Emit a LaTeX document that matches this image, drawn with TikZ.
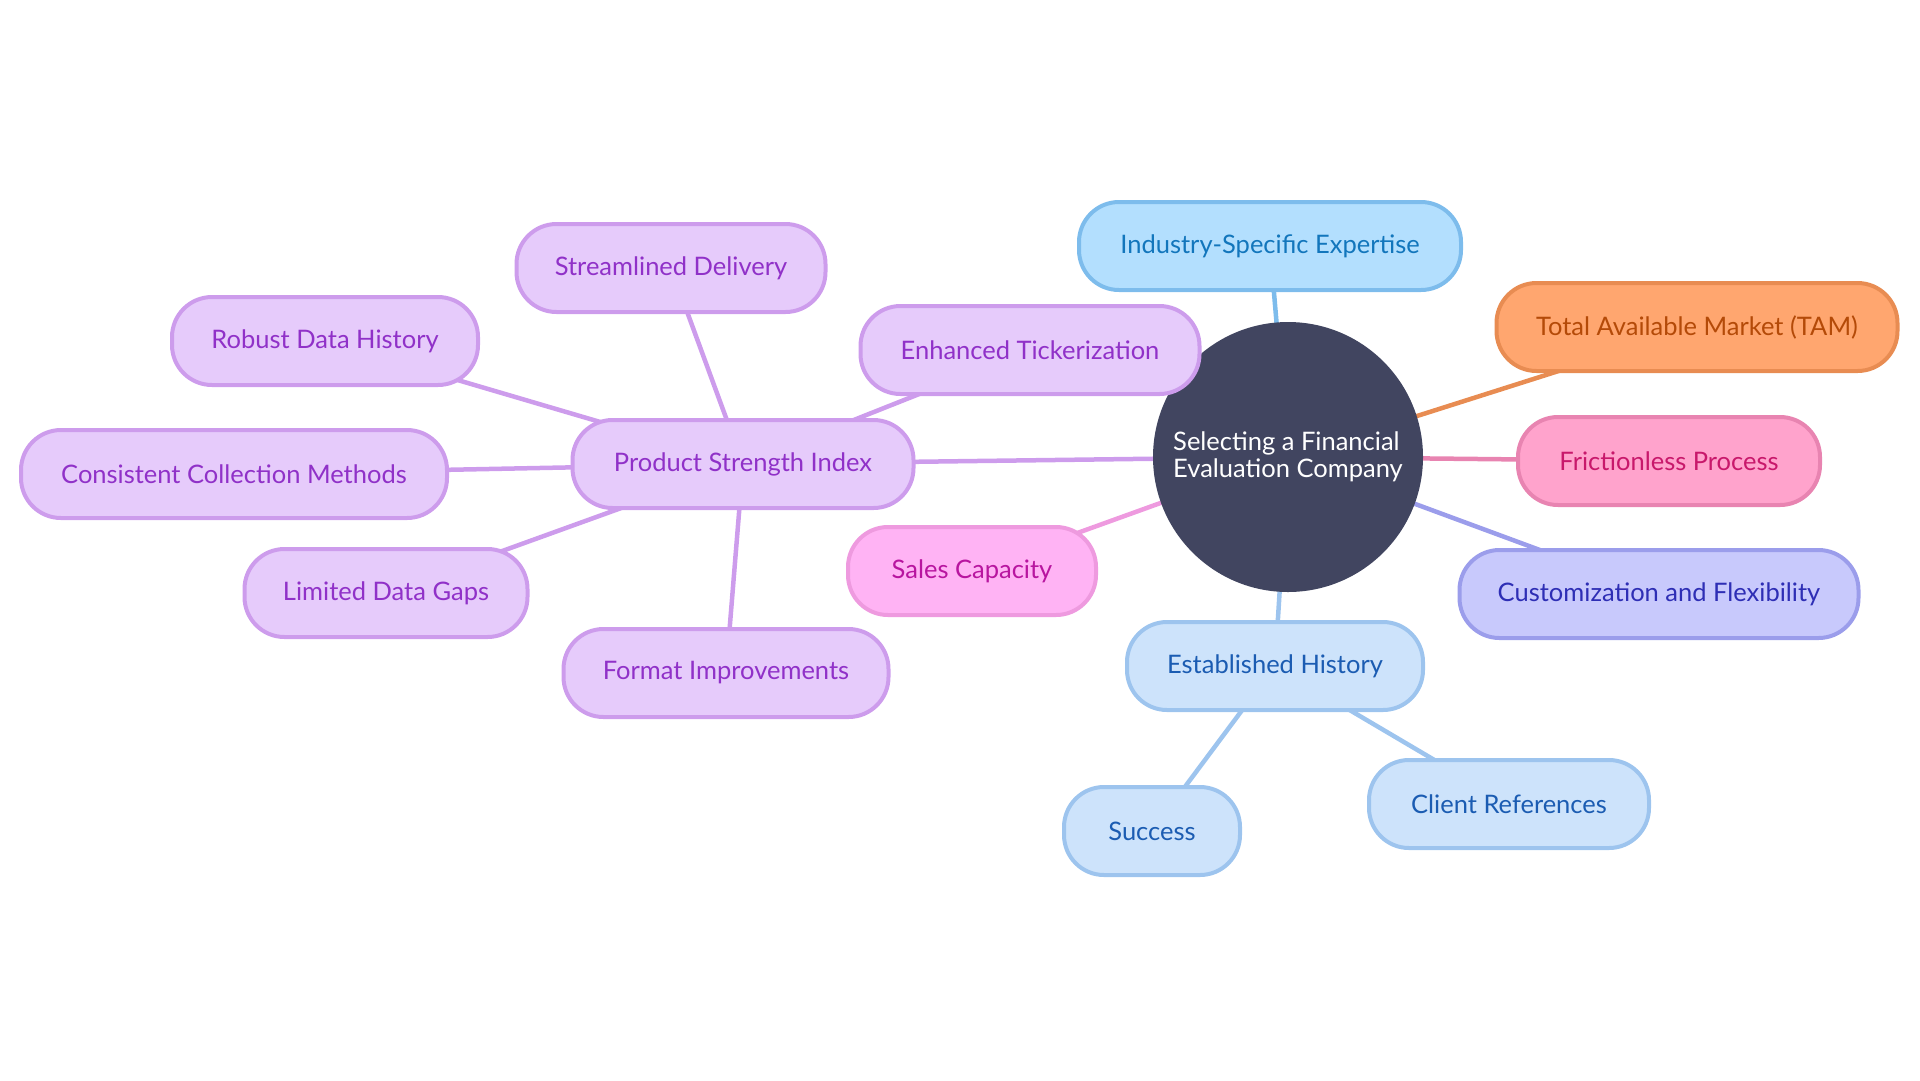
\documentclass[tikz,border=0pt]{standalone}
\usepackage{fontspec}
\setmainfont{Lato}
\usetikzlibrary{backgrounds}
\definecolor{rootc}{HTML}{414560}
\definecolor{pfill}{HTML}{E6CBFB}
\definecolor{pline}{HTML}{CD9CEC}
\definecolor{ptext}{HTML}{9031C8}
\definecolor{bfill}{HTML}{B3DFFE}
\definecolor{bline}{HTML}{7DBCEC}
\definecolor{btext}{HTML}{1276BC}
\definecolor{ofill}{HTML}{FFA66F}
\definecolor{oline}{HTML}{E88C52}
\definecolor{otext}{HTML}{B44A08}
\definecolor{kfill}{HTML}{FFA3CC}
\definecolor{kline}{HTML}{E884B1}
\definecolor{ktext}{HTML}{C8186B}
\definecolor{ifill}{HTML}{C8C9FC}
\definecolor{iline}{HTML}{9B9DEB}
\definecolor{itext}{HTML}{2E2EB5}
\definecolor{lfill}{HTML}{CDE3FB}
\definecolor{lline}{HTML}{9DC4EE}
\definecolor{ltext}{HTML}{1B5CB2}
\definecolor{sfill}{HTML}{FFB3F4}
\definecolor{sline}{HTML}{EE9ADF}
\definecolor{stext}{HTML}{B8159F}
\begin{document}
\begin{tikzpicture}[x=1pt,y=-1pt,
  box/.style={draw, line width=4pt, rounded corners=40pt, minimum height=88pt,
    inner sep=0pt, align=center, font=\fontsize{25.5}{30}\selectfont},
  pbox/.style={box, fill=pfill, draw=pline, text=ptext, minimum width=#1},
  bbox/.style={box, fill=bfill, draw=bline, text=btext, minimum width=#1},
  obox/.style={box, fill=ofill, draw=oline, text=otext, minimum width=#1},
  kbox/.style={box, fill=kfill, draw=kline, text=ktext, minimum width=#1},
  ibox/.style={box, fill=ifill, draw=iline, text=itext, minimum width=#1},
  lbox/.style={box, fill=lfill, draw=lline, text=ltext, minimum width=#1},
  sbox/.style={box, fill=sfill, draw=sline, text=stext, minimum width=#1},
  edge/.style={line width=4.5pt}
]
\useasboundingbox (0,0) rectangle (1920,1080);
\node[circle, fill=rootc, minimum size=270pt, inner sep=0pt, text=white, align=left,
  font=\fontsize{25.5}{27}\selectfont] (root) at (1288,457)
  {Selecting a Financial\\Evaluation Company};
\node[bbox=382pt] (ise) at (1270,246) {Industry-Specific Expertise};
\node[obox=401pt] (tam) at (1697,327) {Total Available Market (TAM)};
\node[kbox=302pt] (fp) at (1669,461) {Frictionless Process};
\node[ibox=399pt] (cf) at (1659,594) {Customization and Flexibility};
\node[lbox=296pt] (eh) at (1275,666) {Established History};
\node[lbox=176pt] (suc) at (1152,831) {Success};
\node[lbox=280pt] (cr) at (1509,804) {Client References};
\node[sbox=248pt] (sc) at (972,571) {Sales Capacity};
\node[pbox=339pt] (et) at (1030,350) {Enhanced Tickerization};
\node[pbox=341pt] (psi) at (743,464) {Product Strength Index};
\node[pbox=309pt] (sd) at (671,268) {Streamlined Delivery};
\node[pbox=306pt] (rdh) at (325,341) {Robust Data History};
\node[pbox=426pt] (ccm) at (234,474) {Consistent Collection Methods};
\node[pbox=283pt] (ldg) at (386,593) {Limited Data Gaps};
\node[pbox=325pt] (fi) at (726,673) {Format Improvements};
\begin{scope}[on background layer]
  \draw[edge, draw=bline] (root.center) -- (ise.center);
  \draw[edge, draw=oline] (root.center) -- (tam.center);
  \draw[edge, draw=kline] (root.center) -- (fp.center);
  \draw[edge, draw=iline] (root.center) -- (cf.center);
  \draw[edge, draw=lline] (root.center) -- (eh.center);
  \draw[edge, draw=sline] (root.center) -- (sc.center);
  \draw[edge, draw=pline] (root.center) -- (psi.center);
  \draw[edge, draw=pline] (psi.center) -- (et.center);
  \draw[edge, draw=pline] (psi.center) -- (sd.center);
  \draw[edge, draw=pline] (psi.center) -- (rdh.center);
  \draw[edge, draw=pline] (psi.center) -- (ccm.center);
  \draw[edge, draw=pline] (psi.center) -- (ldg.center);
  \draw[edge, draw=pline] (psi.center) -- (fi.center);
  \draw[edge, draw=lline] (eh.center) -- (suc.center);
  \draw[edge, draw=lline] (eh.center) -- (cr.center);
\end{scope}
\end{tikzpicture}
\end{document}
